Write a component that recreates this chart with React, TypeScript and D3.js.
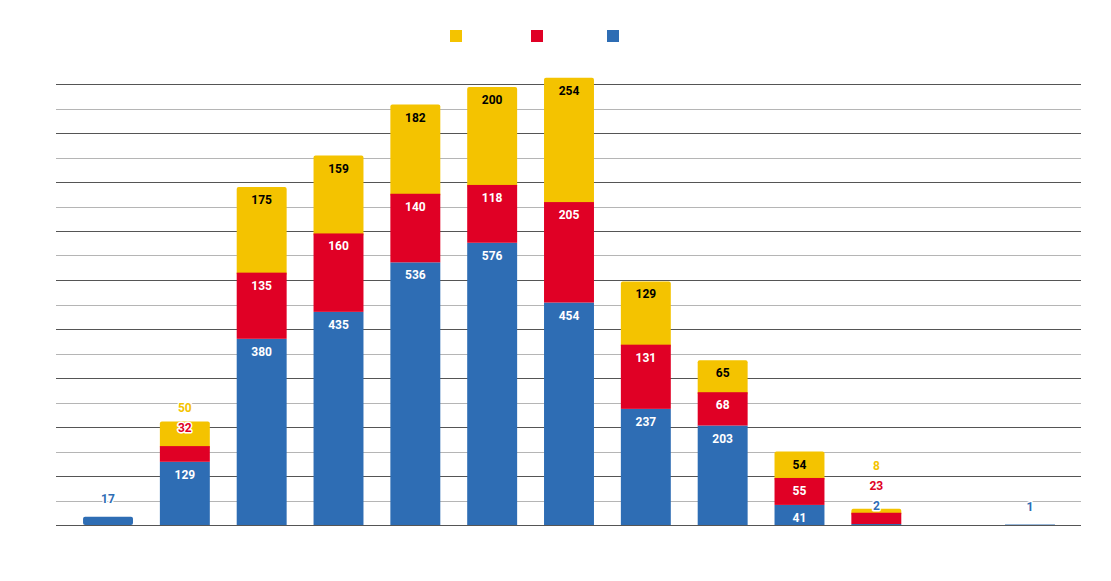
import React from "react";
import * as d3 from "d3";

const categories = ["0-9", "10-19", "20-29", "30-39", "40-49", "50-59", "60-69", "70-79", "80-89", "90-99", "100-109", "110-119", "120+"];
const seriesNames = ["Serie C", "Serie B", "Serie A"];
const blueValues = [17, 129, 380, 435, 536, 576, 454, 237, 203, 41, 2, 0, 1];
const redValues = [0, 32, 135, 160, 140, 118, 205, 131, 68, 55, 23, 0, 0];
const yellowValues = [0, 50, 175, 159, 182, 200, 254, 129, 65, 54, 8, 0, 0];
const yTicks = [0, 100, 200, 300, 400, 500, 600, 700, 800, 900];
const yMinorTicks = [50, 150, 250, 350, 450, 550, 650, 750, 850];

const W = 1111;
const H = 581;
const BLUE = "#2e6db4";
const RED = "#e00025";
const YELLOW = "#f4c300";

export default function App() {
  const x = d3.scaleBand<string>().domain(categories).range([69.6, 1068.4]).paddingInner(0.35).paddingOuter(0.175);
  const y = d3.scaleLinear().domain([0, 900]).range([525, 84]);
  const gridX1 = 56;
  const gridX2 = 1081;
  const crisp = (v: number) => Math.round(v) + 0.5;

  const series = [
    { name: seriesNames[2], values: blueValues, color: BLUE, text: "#fff" },
    { name: seriesNames[1], values: redValues, color: RED, text: "#fff" },
    { name: seriesNames[0], values: yellowValues, color: YELLOW, text: "#000" },
  ];

  const bars: React.ReactNode[] = [];
  const labels: React.ReactNode[] = [];

  categories.forEach((c, i) => {
    const bx = x(c)!;
    const bw = x.bandwidth();
    let cum = 0;
    const segs = series.map((s) => {
      const v = s.values[i];
      const y0 = y(cum);
      cum += v;
      const y1 = y(cum);
      return { s, v, y0, y1 };
    });
    const nonzero = segs.filter((g) => g.v > 0);
    const topIdx = nonzero.length - 1;
    nonzero.forEach((g, k) => {
      if (k === topIdx) {
        bars.push(
          <rect key={`t${i}`} x={bx} y={g.y1} width={bw} height={g.y0 - g.y1 + (k > 0 ? 3 : 0)} rx={k > 0 || g.y0 - g.y1 > 4 ? 2 : 0} fill={g.s.color} />
        );
      }
    });
    nonzero.forEach((g, k) => {
      if (k !== topIdx) {
        bars.push(<rect key={`b${i}-${k}`} x={bx} y={g.y1} width={bw} height={g.y0 - g.y1} fill={g.s.color} />);
      }
    });
    let prevY = Infinity;
    nonzero.forEach((g, k) => {
      const h = g.y0 - g.y1;
      const inside = h >= 19;
      let ly = inside ? g.y1 + 13 : g.y1 - 18;
      ly = Math.min(ly, prevY - 20);
      const isInside = inside && ly >= g.y1 + 6;
      prevY = ly;
      labels.push(
        <text
          key={`l${i}-${k}`}
          x={bx + bw / 2}
          y={ly}
          dominantBaseline="central"
          textAnchor="middle"
          fontFamily="Roboto, sans-serif"
          fontWeight={700}
          fontSize={12}
          fill={isInside ? g.s.text : g.s.color}
          stroke={isInside ? "none" : "#fff"}
          strokeWidth={3}
          paintOrder="stroke"
          strokeLinejoin="round"
        >
          {g.v}
        </text>
      );
    });
  });

  return (
    <svg width={W} height={H} style={{ position: "absolute", left: 0, top: 0, background: "#fff" }}>
      {yMinorTicks.map((t) => (
        <line key={`m${t}`} x1={gridX1} x2={gridX2} y1={crisp(y(t))} y2={crisp(y(t))} stroke="#b5b5b5" strokeWidth={1} />
      ))}
      {yTicks.map((t) => (
        <line key={`g${t}`} x1={gridX1} x2={gridX2} y1={crisp(y(t))} y2={crisp(y(t))} stroke="#555555" strokeWidth={1} />
      ))}
      {yTicks.map((t) => (
        <text key={`yt${t}`} x={48} y={y(t)} dominantBaseline="central" textAnchor="end" fontFamily="Roboto, sans-serif" fontSize={12} fill="#fff">
          {t}
        </text>
      ))}
      {bars}
      {labels}
      {categories.map((c) => (
        <text
          key={`xt${c}`}
          transform={`translate(${x(c)! + x.bandwidth() / 2},${538}) rotate(-40)`}
          textAnchor="end"
          fontFamily="Roboto, sans-serif"
          fontSize={12}
          fill="#fff"
        >
          {c}
        </text>
      ))}
      {[
        { name: seriesNames[0], color: YELLOW, x: 450 },
        { name: seriesNames[1], color: RED, x: 531 },
        { name: seriesNames[2], color: BLUE, x: 607 },
      ].map((l) => (
        <g key={l.name}>
          <rect x={l.x} y={30} width={12} height={12} fill={l.color} />
          <text x={l.x + 18} y={36} dominantBaseline="central" fontFamily="Roboto, sans-serif" fontSize={12} fill="#fff">
            {l.name}
          </text>
        </g>
      ))}
    </svg>
  );
}
